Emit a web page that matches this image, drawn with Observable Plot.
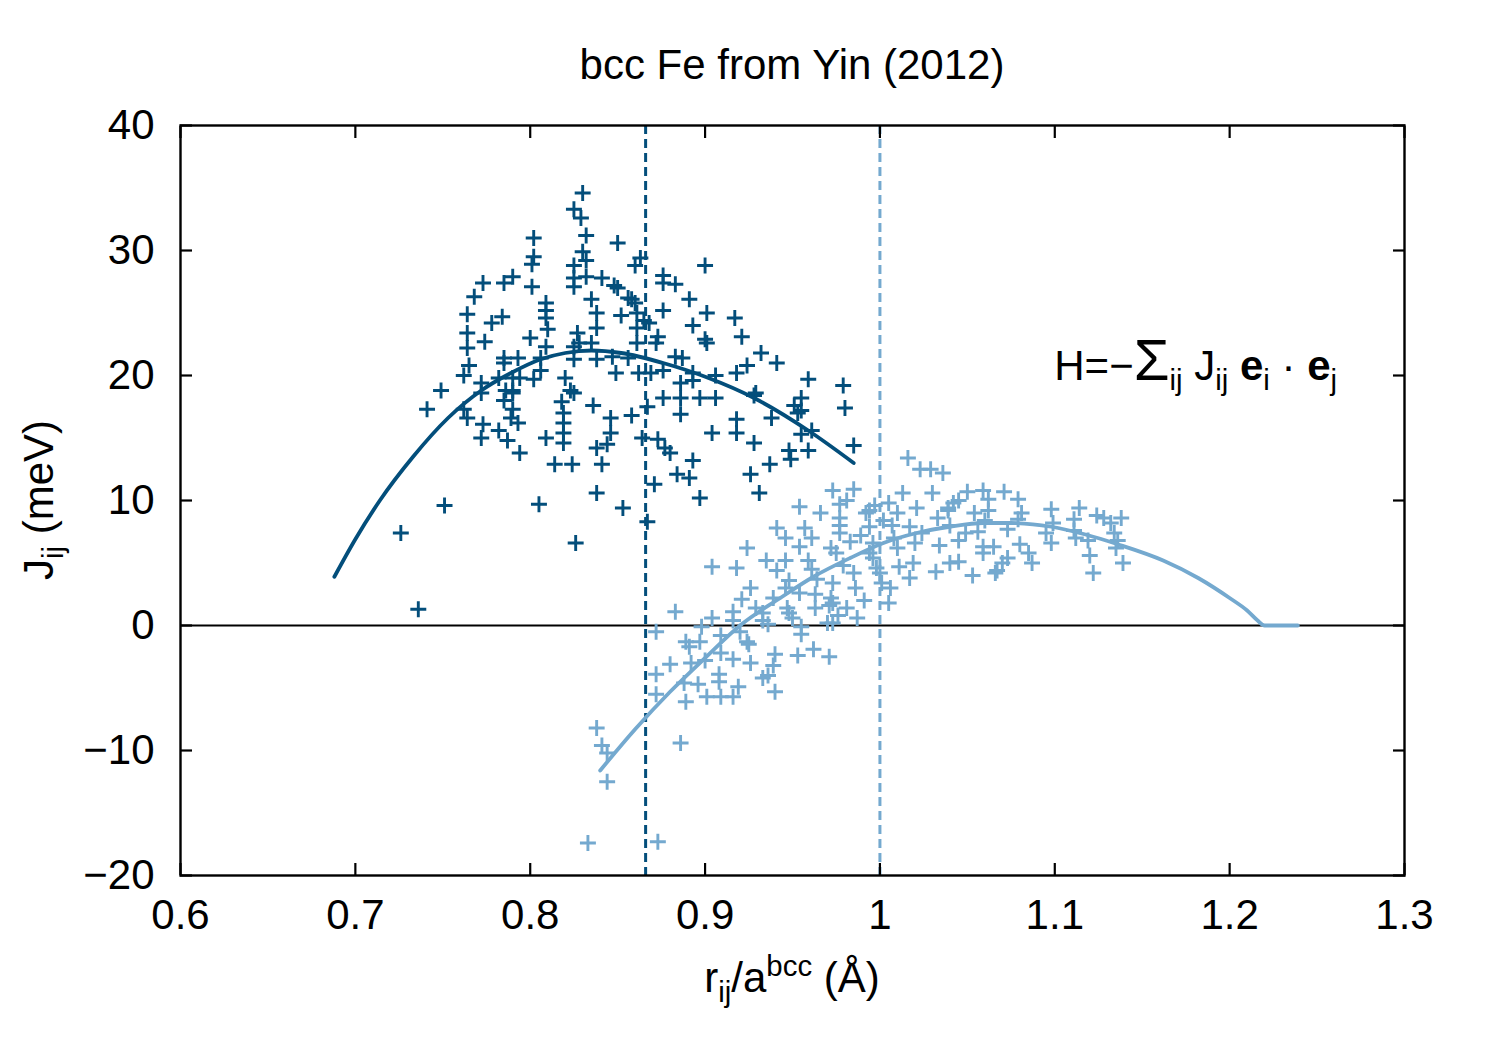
<!DOCTYPE html>
<html><head><meta charset="utf-8">
<script src="https://cdn.jsdelivr.net/npm/d3@7"></script>
<script src="https://cdn.jsdelivr.net/npm/@observablehq/plot@0.6"></script>
<style>body{margin:0;background:#fff;}</style>
</head><body><div id="chart"></div>
<script>
// ---- data ----
const titleText = "bcc Fe from Yin (2012)";
const xTicks = [0.6, 0.7, 0.8, 0.9, 1.0, 1.1, 1.2, 1.3];
const xTickLabels = ["0.6", "0.7", "0.8", "0.9", "1", "1.1", "1.2", "1.3"];
const yTicks = [-20, -10, 0, 10, 20, 30, 40];
const yTickLabels = ["\u221220", "\u221210", "0", "10", "20", "30", "40"];
const neighbourShells = [0.866, 1.0]; // dashed verticals (dark, light)

const darkX = [
0.830,0.825,0.829,0.832,0.802,0.850,0.830,0.802,0.801,0.825,0.832,0.825,0.832,0.841,0.790,0.785,0.773,0.801,0.825,0.848,
0.850,0.768,0.835,0.856,0.809,0.809,0.809,0.764,0.784,0.838,0.852,0.778,0.838,0.810,0.764,0.827,0.800,0.774,0.835,0.828,
0.825,0.809,0.764,0.847,0.785,0.785,0.793,0.825,0.838,0.856,0.765,0.806,0.806,0.762,0.849,0.820,
0.772,0.772,0.782,0.790,0.794,0.802,0.749,0.786,0.790,0.790,0.823,0.825,0.785,0.818,0.836,0.741,0.762,0.764,0.790,0.789,
0.793,0.819,0.819,0.819,0.819,0.846,0.773,0.846,0.782,0.787,0.772,0.809,0.838,0.844,0.794,0.814,0.824,0.841,0.838,0.751,
0.805,0.853,0.726,0.826,0.736,
0.860,0.863,0.900,0.876,0.876,0.883,0.891,0.858,0.860,0.876,0.901,0.861,0.917,0.865,0.868,0.893,0.861,0.873,0.921,0.900,
0.901,0.861,0.872,0.932,0.883,0.887,0.941,0.924,0.862,0.869,0.876,0.893,0.906,0.918,0.959,0.979,
0.893,0.886,0.876,0.886,0.897,0.906,0.928,0.929,0.867,0.955,0.951,0.955,0.953,0.980,0.858,0.886,0.938,0.918,0.918,0.904,
0.961,0.955,0.864,0.873,0.877,0.880,0.928,0.985,0.948,0.949,0.959,0.893,0.937,0.884,0.891,0.926,0.871,0.931,0.897,0.867
];
const darkY = [
34.6,33.3,32.6,31.2,31.0,30.6,29.9,29.5,28.9,28.8,29.2,27.8,27.9,27.8,27.9,27.4,27.4,27.1,27.1,27.2,
27.0,26.3,26.1,26.2,25.8,25.2,24.6,24.9,24.7,25.0,24.8,24.2,23.8,23.7,23.4,23.4,23.0,22.7,22.6,22.6,
22.3,22.3,22.2,21.5,21.4,21.0,21.4,21.3,21.3,21.4,20.8,21.4,20.4,20.0,20.2,19.8,
19.4,18.6,19.8,19.8,19.8,19.7,18.8,18.8,18.8,18.6,18.8,18.6,18.0,17.9,17.6,17.3,17.3,16.6,17.3,16.6,
16.2,17.0,16.2,15.4,14.6,16.6,16.1,15.4,15.6,14.8,15.0,15.0,14.2,14.5,13.8,12.9,12.9,12.9,10.6,9.6,
9.7,9.4,7.4,6.6,1.3,
28.8,29.4,28.8,28.0,27.4,27.3,26.1,26.1,25.8,25.2,25.0,25.0,24.6,24.4,24.2,24.0,23.8,23.1,23.1,22.9,
22.6,22.6,22.6,21.8,21.5,21.4,21.0,20.8,20.2,20.2,20.4,20.2,20.0,20.2,19.7,19.2,
19.6,19.4,18.2,18.2,18.2,18.2,18.4,18.6,17.5,18.2,17.6,17.2,17.0,17.4,16.8,16.9,16.6,16.5,15.4,15.4,
15.6,15.3,15.0,14.9,14.2,13.8,14.6,14.4,14.0,13.3,14.0,13.2,12.9,12.1,11.8,12.1,11.3,10.6,10.2,8.3
];

const lightX = [
0.973,0.985,0.981,0.977,0.954,0.966,0.977,0.977,0.977,0.941,0.957,0.946,0.961,0.983,0.924,0.954,0.972,0.975,0.904,0.918,
0.935,0.946,0.959,0.961,0.941,0.979,0.985,0.948,0.964,0.926,0.946,0.973,0.986,0.954,0.963,0.921,0.939,0.972,0.973,0.971,
0.929,0.947,0.981,0.963,0.883,0.916,0.933,0.948,0.950,0.904,0.916,0.933,0.936,0.976,0.970,0.973,0.987,0.898,0.955,0.955,
0.872,0.920,0.909,0.897,0.889,0.891,0.924,0.925,0.909,0.940,0.962,0.971,0.953,0.916,0.900,0.880,0.926,0.939,0.892,0.872,
0.908,0.908,0.933,0.936,0.888,0.896,0.872,0.919,0.940,0.901,0.909,0.916,0.889,
0.838,0.841,0.844,0.844,0.886,0.833,0.873,
1.016,1.023,1.029,1.036,1.013,1.030,1.050,1.059,1.062,1.062,1.071,1.079,1.045,1.042,1.039,1.039,1.005,0.997,0.994,0.992,
1.021,1.010,1.054,1.081,1.098,1.114,1.124,1.128,1.138,1.132,1.033,1.002,1.007,0.994,1.079,1.060,1.017,1.040,1.111,1.111,
1.099,0.989,1.024,1.049,1.056,1.073,1.095,1.134,1.136,1.008,0.996,1.020,1.045,1.112,1.119,1.034,1.010,1.059,1.059,1.065,
1.080,1.085,1.098,1.135,0.994,0.996,1.120,1.087,1.073,1.070,1.067,1.066,1.040,1.045,1.019,1.017,1.011,0.998,1.000,1.001,
1.006,1.139,1.032,1.053,1.122,0.991,1.005
];
const lightY = [
10.8,10.9,10.0,9.7,9.5,9.0,8.6,8.0,7.4,7.8,7.8,7.0,7.0,6.7,6.2,6.3,6.2,5.8,4.7,4.6,
5.2,5.2,5.2,4.5,4.4,4.8,4.2,3.6,3.7,3.0,3.0,3.4,3.0,2.6,2.5,2.1,2.2,2.2,1.8,1.6,
1.4,1.4,1.4,1.4,1.1,1.1,1.0,1.0,0.6,0.6,0.4,0.4,0.1,0.8,0.2,0.2,0.6,-0.1,-0.1,-0.7,
-0.5,-0.5,-0.8,-1.3,-1.3,-1.7,-1.3,-1.5,-2.2,-2.3,-1.9,-2.5,-2.4,-2.7,-2.8,-3.1,-3.0,-3.2,-3.0,-3.9,
-3.9,-4.5,-4.2,-4.0,-4.6,-4.7,-5.5,-4.9,-5.3,-5.7,-5.7,-5.7,-6.1,
-8.2,-9.6,-10.2,-12.5,-9.4,-17.4,-17.3,
13.4,12.5,12.5,12.2,10.6,10.6,10.7,10.8,10.1,9.2,10.7,10.1,10.0,9.8,9.4,9.2,9.8,9.6,9.2,9.0,
9.4,9.0,9.0,9.0,9.3,9.4,8.8,8.6,8.6,8.2,8.6,8.4,8.0,7.9,8.5,8.4,7.9,8.0,8.5,7.6,
8.2,7.2,7.4,7.4,7.5,7.7,7.4,7.4,6.8,7.0,6.6,6.6,6.8,7.0,6.8,6.4,6.2,6.3,5.8,6.3,
6.5,5.8,6.6,6.2,5.8,5.4,5.6,5.0,5.4,5.0,4.4,4.2,5.0,5.1,5.0,3.8,4.7,4.6,4.2,3.4,
3.0,5.0,4.3,4.0,4.2,2.0,1.8
];

const darkFitX = [0.688,0.700,0.714,0.733,0.753,0.772,0.789,0.806,0.820,0.835,0.852,0.876,0.902,0.928,0.959,0.985];
const darkFitY = [3.9,6.9,10.0,13.5,16.6,18.8,20.2,21.3,21.8,22.0,21.8,21.0,19.8,18.2,15.6,13.0];
const lightFitX = [0.840,0.860,0.880,0.900,0.920,0.943,0.962,0.983,1.002,1.021,1.040,1.059,1.075,1.098,1.117,1.136,1.162,1.182,1.200,1.210,1.216,1.220,1.239];
const lightFitY = [-11.6,-8.3,-5.3,-2.6,0.0,2.2,3.9,5.4,6.6,7.4,7.9,8.2,8.2,7.9,7.3,6.5,5.2,3.8,2.2,1.2,0.4,0.0,0.0];

// ---- build tables ----
const zip = (xs, ys) => xs.map((x, i) => ({x, y: ys[i]}));
const dark = zip(darkX, darkY), light = zip(lightX, lightY);
const darkFit = zip(darkFitX, darkFitY), lightFit = zip(lightFitX, lightFitY);
const xLab = new Map(xTicks.map((t, i) => [t, xTickLabels[i]]));
const yLab = new Map(yTicks.map((t, i) => [t, yTickLabels[i]]));

const darkColor = "#034e7b", lightColor = "#74a9cf";
const FONT = "Liberation Sans, Arial, Helvetica, sans-serif";
const FS = 42;

const plot = Plot.plot({
  width: 1500, height: 1050,
  marginLeft: 180, marginRight: 96, marginTop: 125, marginBottom: 175,
  style: {fontFamily: FONT, fontSize: FS + "px", background: "#fff", color: "#000"},
  x: {domain: [0.6, 1.3]},
  y: {domain: [-20, 40]},
  marks: [
    Plot.ruleY([0], {stroke: "#000", strokeWidth: 2.2}),
    Plot.ruleX([neighbourShells[0]], {stroke: darkColor, strokeWidth: 3, strokeDasharray: "9,5"}),
    Plot.ruleX([neighbourShells[1]], {stroke: lightColor, strokeWidth: 3, strokeDasharray: "9,5"}),
    Plot.dot(dark, {x: "x", y: "y", symbol: "plus", r: 5.2, fill: "none", stroke: darkColor, strokeWidth: 2.9}),
    Plot.line(darkFit, {x: "x", y: "y", stroke: darkColor, strokeWidth: 3.8, curve: "monotone-x"}),
    Plot.dot(light, {x: "x", y: "y", symbol: "plus", r: 5.2, fill: "none", stroke: lightColor, strokeWidth: 2.9}),
    Plot.line(lightFit, {x: "x", y: "y", stroke: lightColor, strokeWidth: 3.8, curve: "monotone-x"}),
    Plot.frame({stroke: "#000", strokeWidth: 2.4}),
    Plot.axisX(xTicks, {anchor: "bottom", tickSize: -12, fill: "none", strokeWidth: 2.2, label: null}),
    Plot.axisX(xTicks, {anchor: "top", tickSize: -12, fill: "none", strokeWidth: 2.2, label: null}),
    Plot.axisX(xTicks, {anchor: "bottom", tickSize: 0, tickPadding: 24, fontSize: FS, tickFormat: d => xLab.get(d), label: null}),
    Plot.axisY(yTicks, {anchor: "left", tickSize: -12, fill: "none", strokeWidth: 2.2, label: null}),
    Plot.axisY(yTicks, {anchor: "right", tickSize: -12, fill: "none", strokeWidth: 2.2, label: null}),
    Plot.axisY(yTicks, {anchor: "left", tickSize: 0, tickPadding: 26, fontSize: FS, tickFormat: d => yLab.get(d), label: null})
  ]
});
document.getElementById("chart").appendChild(plot);

// ---- rich text (title, axis labels, formula) ----
const svg = d3.select(plot);
const sx = plot.scale("x"), sy = plot.scale("y");
function rich(sel, parts, base) {
  let shift = 0;
  for (const [t, o = {}] of parts) {
    const target = o.sub ? base * 0.24 : o.sup ? -base * 0.38 : 0;
    const ts = sel.append("tspan").text(t).attr("dy", target - shift);
    shift = target;
    if (o.sub || o.sup) ts.attr("font-size", base * 0.7);
    if (o.size) ts.attr("font-size", o.size);
    if (o.bold) ts.attr("font-weight", "bold");
  }
}
const cx = (sx.apply(0.6) + sx.apply(1.3)) / 2;
svg.append("text").attr("x", cx).attr("y", 79).attr("text-anchor", "middle")
  .attr("font-family", FONT).attr("font-size", FS).attr("fill", "#000").text(titleText);

const xl = svg.append("text").attr("x", cx).attr("y", 992).attr("text-anchor", "middle")
  .attr("font-family", FONT).attr("font-size", FS).attr("fill", "#000").style("white-space", "pre");
rich(xl, [["r"], ["ij", {sub: true}], ["/a"], ["bcc", {sup: true}], [" (\u00c5)"]], FS);

const ycen = (sy.apply(-20) + sy.apply(40)) / 2;
const yl = svg.append("text").attr("transform", `translate(53,${ycen}) rotate(-90)`).attr("text-anchor", "middle")
  .attr("font-family", FONT).attr("font-size", FS).attr("fill", "#000").style("white-space", "pre");
rich(yl, [["J"], ["ij", {sub: true}], [" (meV)"]], FS);

const fl = svg.append("text").attr("x", sx.apply(1.1)).attr("y", sy.apply(20) + 5).attr("text-anchor", "start")
  .attr("font-family", FONT).attr("font-size", FS).attr("fill", "#000").style("white-space", "pre");
rich(fl, [["H=\u2212"], ["\u03a3", {size: 58}], ["ij", {sub: true}], [" J"], ["ij", {sub: true}], [" "],
  ["e", {bold: true}], ["i", {sub: true}], [" \u00b7 "], ["e", {bold: true}], ["j", {sub: true}]], FS);
</script>
</body></html>
